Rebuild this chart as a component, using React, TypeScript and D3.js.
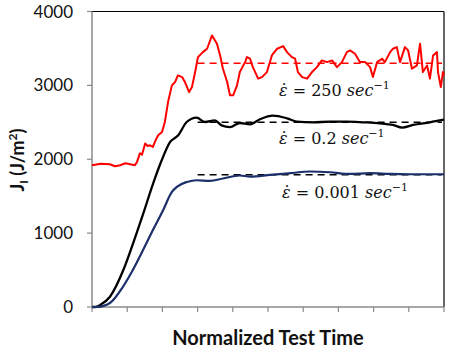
import React from "react";
import * as d3 from "d3";

// Normalized time (%) and J_I (J/m^2)
const redT = [0, 2.5, 5.1, 6.5, 8.0, 9.5, 10.8, 12.2, 12.8, 13.6, 14.2, 15.1, 15.8, 16.5, 17.3, 18.0, 18.8, 19.9, 20.7, 21.6, 22.7, 23.6, 24.4, 25.6, 26.4, 27.6, 28.4, 29.3, 30.1, 31.5, 32.7, 34.1, 35.5, 36.4, 37.2, 38.4, 39.2, 40.1, 41.2, 42.0, 43.5, 44.0, 44.9, 45.7, 47.2, 48.3, 49.7, 51.1, 52.6, 54.3, 55.4, 56.8, 57.7, 58.5, 59.7, 61.1, 62.5, 63.9, 65.3, 66.8, 68.2, 69.6, 71.0, 72.4, 73.3, 74.7, 76.1, 77.6, 79.0, 79.8, 81.0, 82.4, 83.2, 84.7, 85.5, 86.6, 87.5, 88.9, 89.8, 90.9, 92.3, 93.2, 94.0, 95.2, 96.0, 96.9, 98.0, 98.3, 99.1, 99.7, 100];
const redV = [1919, 1940, 1932, 1905, 1919, 1945, 1932, 1919, 1964, 2081, 2060, 2212, 2180, 2189, 2166, 2250, 2324, 2369, 2504, 2774, 3000, 3045, 3135, 3112, 3045, 2909, 2977, 3180, 3382, 3450, 3496, 3676, 3564, 3405, 3226, 3045, 2865, 2865, 3000, 3180, 3315, 3382, 3361, 3247, 3091, 3112, 3180, 3405, 3496, 3531, 3450, 3382, 3361, 3180, 3112, 3091, 3180, 3247, 3338, 3315, 3338, 3247, 3315, 3450, 3473, 3428, 3315, 3315, 3247, 3112, 3315, 3361, 3315, 3450, 3496, 3518, 3315, 3518, 3473, 3226, 3270, 3564, 3180, 3270, 3091, 3405, 3450, 3180, 2977, 3180, 3135];

const blackT = [0, 0.9, 2.3, 5.1, 8.9, 11.7, 14.6, 17.4, 19.8, 22.2, 24.5, 26.9, 29.7, 32.1, 34.9, 36.8, 39.2, 42.0, 44.9, 47.7, 51.4, 55.4, 58.2, 62.8, 67.6, 72.4, 77.0, 81.8, 85.5, 88.1, 91.2, 96.0, 100];
const blackV = [0, 0, 27, 139, 500, 865, 1270, 1676, 1986, 2234, 2324, 2504, 2564, 2504, 2527, 2459, 2436, 2491, 2473, 2541, 2591, 2554, 2509, 2500, 2509, 2509, 2500, 2486, 2464, 2428, 2464, 2500, 2535];

const blueT = [0, 1.4, 5.1, 8.8, 11.6, 14.5, 17.3, 20.2, 22.7, 24.1, 27.0, 29.8, 33.5, 37.2, 42.0, 44.9, 50.6, 56.3, 61.9, 67.6, 73.3, 79.0, 84.7, 90.3, 96.0, 100];
const blueV = [0, 0, 54, 274, 500, 770, 1041, 1311, 1558, 1626, 1693, 1716, 1707, 1739, 1780, 1766, 1788, 1811, 1834, 1824, 1801, 1811, 1801, 1797, 1797, 1797];

const plateauStart = 30;
const plateauEnd = 100;
const plateaus = [3300, 2500, 1790];
const rateLabels = ["250", "0.2", "0.001"];
const yTicks = [0, 1000, 2000, 3000, 4000];
const xTicks = [0, 10, 20, 30, 40, 50, 60, 70, 80, 90, 100];

const W = 450, H = 356;
const L = 92, R = 444, T = 11.5, B = 307;

export default function App() {
  const x = d3.scaleLinear().domain([0, 100]).range([L, R]);
  const y = d3.scaleLinear().domain([0, 4000]).range([B, T]);
  const lineLin = d3.line<[number, number]>().x(d => x(d[0])).y(d => y(d[1]));
  const lineSmooth = d3.line<[number, number]>().x(d => x(d[0])).y(d => y(d[1])).curve(d3.curveMonotoneX);
  const red = redT.map((t, i) => [t, redV[i]] as [number, number]);
  const black = blackT.map((t, i) => [t, blackV[i]] as [number, number]);
  const blue = blueT.map((t, i) => [t, blueV[i]] as [number, number]);
  const colors = ["#ff0000", "#000000", "#1b2f6b"];
  const labelPos = [
    { x: 279, y: 96 },
    { x: 279, y: 144 },
    { x: 282, y: 198 },
  ];
  const tickFont = "Lato, 'Open Sans', sans-serif";
  const mathFont = "'DejaVu Serif', 'Liberation Serif', serif";
  return (
    <svg width={W} height={H} style={{ position: "absolute", left: 0, top: 0, background: "#fff" }}>
      {/* frame */}
      <line x1={L} x2={R} y1={T} y2={T} stroke="#000" strokeWidth={1.2} />
      <line x1={R} x2={R} y1={T} y2={B} stroke="#000" strokeWidth={1.2} />
      <line x1={L} x2={L} y1={T} y2={B} stroke="#8a8a8a" strokeWidth={1.5} />
      <line x1={L} x2={R} y1={B} y2={B} stroke="#8a8a8a" strokeWidth={1.5} />
      {yTicks.map(v => (
        <g key={v}>
          <line x1={L - 5} x2={L} y1={y(v)} y2={y(v)} stroke="#8a8a8a" strokeWidth={1.2} />
          <text x={L - 19} y={y(v)} dy="0.36em" textAnchor="end" fontFamily={tickFont} fontSize={17} fill="#111">{v}</text>
        </g>
      ))}
      {xTicks.map(v => (
        <line key={v} x1={x(v)} x2={x(v)} y1={B} y2={B + 5} stroke="#8a8a8a" strokeWidth={1.2} />
      ))}
      {/* dashed plateau lines */}
      {plateaus.map((p, i) => (
        <line key={i} x1={x(plateauStart)} x2={x(plateauEnd) - 2} y1={y(p)} y2={y(p)} stroke={i === 2 ? "#000" : colors[i]} strokeWidth={1.5} strokeDasharray="7,5" />
      ))}
      <path d={lineLin(red) || ""} fill="none" stroke={colors[0]} strokeWidth={2} strokeLinejoin="round" />
      <path d={lineSmooth(black) || ""} fill="none" stroke={colors[1]} strokeWidth={2.3} />
      <path d={lineSmooth(blue) || ""} fill="none" stroke={colors[2]} strokeWidth={2.2} />
      {/* annotations */}
      {rateLabels.map((r, i) => (
        <text key={i} x={labelPos[i].x} y={labelPos[i].y} fontFamily={mathFont} fontSize={16} fill="#111">
          <tspan fontStyle="italic">{"\u03B5\u0307"}</tspan>
          <tspan>{" = " + r + " "}</tspan>
          <tspan fontStyle="italic">sec</tspan>
          <tspan dy={-7} fontSize={11}>{"\u22121"}</tspan>
        </text>
      ))}
      {/* axis titles */}
      <text x={(L + R) / 2} y={345} textAnchor="middle" fontFamily={tickFont} fontWeight="bold" fontSize={20} fill="#111">Normalized Test Time</text>
      <text transform={`translate(24,${160}) rotate(-90)`} textAnchor="middle" fontFamily={tickFont} fontWeight="bold" fontSize={18} fill="#111">
        <tspan>J</tspan>
        <tspan fontSize={12} dy={4}>I</tspan>
        <tspan dy={-4}>{" (J/m"}</tspan>
        <tspan fontSize={12} dy={-7}>2</tspan>
        <tspan dy={7}>)</tspan>
      </text>
    </svg>
  );
}
